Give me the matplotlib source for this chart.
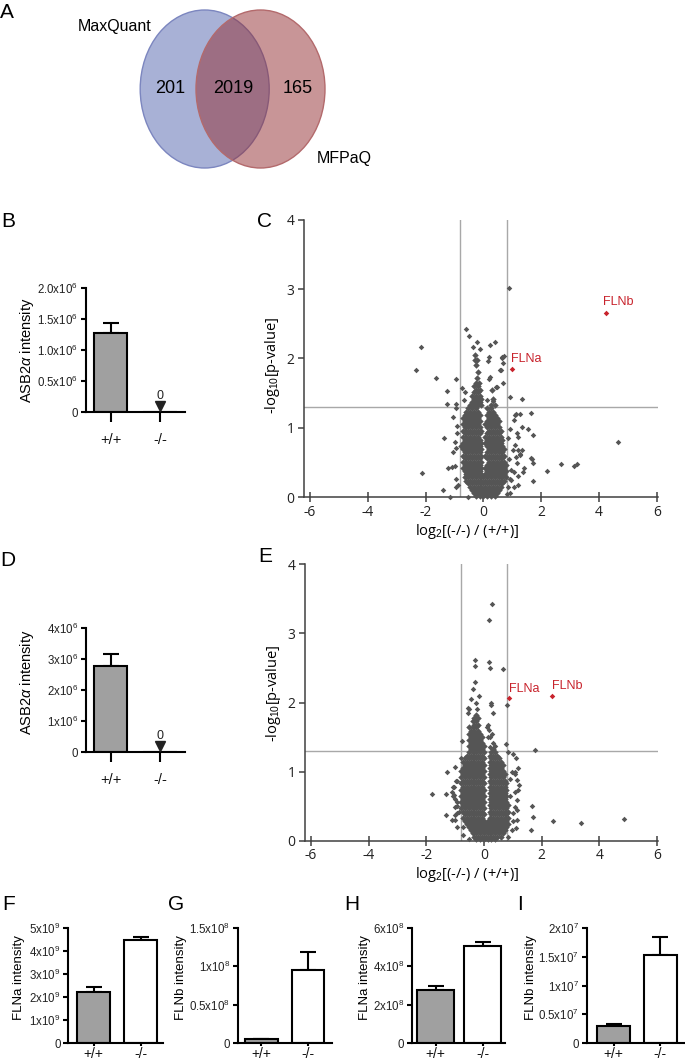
import numpy as np
import matplotlib
matplotlib.use('Agg')
import matplotlib.pyplot as plt
from matplotlib.patches import Ellipse
from matplotlib.transforms import offset_copy

W, H = 685, 1062

plt.rcParams['font.family'] = ['Liberation Sans', 'DejaVu Sans']
plt.rcParams['mathtext.fontset'] = 'custom'
plt.rcParams['mathtext.rm'] = 'Liberation Sans'
plt.rcParams['mathtext.it'] = 'Liberation Sans:italic'
plt.rcParams['mathtext.bf'] = 'Liberation Sans:bold'

# ---------------- data ----------------
venn_names = ['MaxQuant', 'MFPaQ']
venn_counts = [201, 2019, 165]

groups = ['+/+', '-/-']

b_mean = [1.28e6, 0]
b_err = [0.16e6, 0]
d_mean = [2.78e6, 0]
d_err = [0.38e6, 0]
f_mean = [2.24e9, 4.48e9]
f_err = [0.22e9, 0.13e9]
g_mean = [0.05e8, 0.95e8]
g_err = [0.004e8, 0.23e8]
h_mean = [2.77e8, 5.05e8]
h_err = [0.20e8, 0.19e8]
i_mean = [0.30e7, 1.53e7]
i_err = [0.03e7, 0.31e7]

# volcano C : dense core read row by row (y, x values)
c_core = [
    (0.02, [-0.26, -0.13, 0, 0.13, 0.26, 0.39]),
    (0.06, [-0.33, -0.20, -0.07, 0.07, 0.20, 0.33, 0.46]),
    (0.11, [-0.39, -0.26, -0.13, 0, 0.13, 0.26, 0.39, 0.52]),
    (0.15, [-0.46, -0.33, -0.20, -0.07, 0.07, 0.20, 0.33, 0.46, 0.59]),
    (0.20, [-0.52, -0.39, -0.26, -0.13, 0, 0.13, 0.26, 0.39, 0.52, 0.65]),
    (0.24, [-0.59, -0.46, -0.33, -0.20, -0.07, 0.07, 0.20, 0.33, 0.46, 0.59, 0.72]),
    (0.29, [-0.65, -0.52, -0.39, -0.26, -0.13, 0, 0.13, 0.26, 0.39, 0.52, 0.65, 0.78]),
    (0.33, [-0.59, -0.46, -0.33, -0.20, -0.07, 0.07, 0.20, 0.33, 0.46, 0.59, 0.72]),
    (0.38, [-0.65, -0.52, -0.39, -0.26, -0.13, 0.13, 0.26, 0.39, 0.52, 0.65, 0.78]),
    (0.42, [-0.72, -0.59, -0.46, -0.33, -0.20, -0.07, 0.07, 0.20, 0.33, 0.46, 0.59, 0.72]),
    (0.47, [-0.65, -0.52, -0.39, -0.26, -0.13, 0.13, 0.26, 0.39, 0.52, 0.65, 0.78]),
    (0.51, [-0.72, -0.59, -0.46, -0.33, -0.20, -0.07, 0.20, 0.33, 0.46, 0.59, 0.72]),
    (0.56, [-0.65, -0.52, -0.39, -0.26, -0.13, 0.13, 0.26, 0.39, 0.52, 0.65]),
    (0.60, [-0.72, -0.59, -0.46, -0.33, -0.20, -0.07, 0.07, 0.20, 0.33, 0.46, 0.59, 0.72]),
    (0.65, [-0.65, -0.52, -0.39, -0.26, -0.13, 0.13, 0.26, 0.39, 0.52, 0.65]),
    (0.69, [-0.72, -0.59, -0.46, -0.33, -0.20, -0.07, 0.20, 0.33, 0.46, 0.59, 0.72]),
    (0.74, [-0.78, -0.65, -0.52, -0.39, -0.26, -0.13, 0.13, 0.26, 0.39, 0.52, 0.65]),
    (0.78, [-0.72, -0.59, -0.46, -0.33, -0.20, -0.07, 0.07, 0.20, 0.33, 0.46, 0.59]),
    (0.83, [-0.65, -0.52, -0.39, -0.26, -0.13, 0.13, 0.26, 0.39, 0.52, 0.65]),
    (0.87, [-0.72, -0.59, -0.46, -0.33, -0.20, 0.07, 0.20, 0.33, 0.46, 0.59]),
    (0.92, [-0.65, -0.52, -0.39, -0.26, -0.13, 0.13, 0.26, 0.39, 0.52]),
    (0.96, [-0.72, -0.59, -0.46, -0.33, -0.20, -0.07, 0.20, 0.33, 0.46, 0.59]),
    (1.01, [-0.65, -0.52, -0.39, -0.26, -0.13, 0.13, 0.26, 0.39, 0.52]),
    (1.05, [-0.72, -0.59, -0.46, -0.33, -0.20, 0.07, 0.20, 0.33, 0.46]),
    (1.10, [-0.65, -0.52, -0.39, -0.26, -0.13, 0.13, 0.26, 0.39, 0.52]),
    (1.14, [-0.72, -0.59, -0.46, -0.33, -0.20, 0.20, 0.33, 0.46]),
    (1.19, [-0.65, -0.52, -0.39, -0.26, -0.13, 0.13, 0.26, 0.39]),
    (1.23, [-0.59, -0.46, -0.33, -0.20, 0.20, 0.33]),
    (1.28, [-0.52, -0.39, -0.26, 0.13, 0.26]),
    (1.33, [-0.46, -0.33, -0.20, -0.07, 0.26, 0.39]),
    (1.37, [-0.39, -0.26, -0.13]),
    (1.42, [-0.33, -0.20, -0.07, 0.33]),
    (1.46, [-0.39, -0.26, -0.13]),
    (1.51, [-0.33, -0.20]),
    (1.55, [-0.26, -0.13, 0.30]),
    (1.60, [-0.33, -0.20]),
    (1.65, [-0.26, -0.15]),
    (1.72, [-0.22]),
    (1.80, [-0.18]),
    (1.90, [-0.26]),
    (1.98, [-0.30, -0.22]),
    (2.05, [-0.28]),
]
c_outliers = [
    (0.87, 3.02), (-0.61, 2.43), (-0.51, 2.32), (-2.17, 2.17), (-2.33, 1.84),
    (-1.63, 1.72), (-1.27, 1.53), (-0.95, 1.70), (-1.25, 1.35), (-0.95, 1.35),
    (-0.21, 2.23), (-0.37, 2.17), (-0.12, 2.14), (0.23, 2.20), (0.39, 2.24),
    (0.16, 1.97), (0.65, 2.01), (0.71, 2.04), (0.58, 1.83), (0.67, 1.65),
    (0.44, 1.59), (0.18, 1.70), (0.23, 1.73), (0.92, 1.44), (1.32, 1.41),
    (1.66, 1.22), (1.11, 1.20), (1.32, 1.01), (1.55, 0.99), (1.71, 0.90),
    (4.67, 0.80), (2.69, 0.48), (2.19, 0.38), (3.13, 0.45), (3.24, 0.48),
    (1.73, 0.24), (1.67, 0.55), (1.72, 0.50), (1.33, 0.68), (1.25, 0.61),
    (1.41, 0.42), (-2.11, 0.35), (-1.35, 0.85), (-1.41, 0.10), (-1.17, 0.01),
    (-1.21, 0.42), (-1.10, 0.43), (-0.98, 0.45), (-0.95, 0.26), (-0.88, 0.17),
    (-0.55, 0.01), (-0.92, 0.92), (-0.90, 1.02), (-1.04, 1.16), (-0.95, 1.28),
    (-0.73, 1.57), (-0.69, 1.40), (-0.97, 0.80), (-0.95, 0.71), (-1.04, 0.65),
    (-0.94, 0.15), (-0.64, 1.52), (0.11, 1.40), (0.34, 1.38), (0.19, 2.02),
    (0.63, 2.02), (0.69, 1.93), (0.46, 1.59), (0.60, 1.84), (1.09, 1.19),
    (1.06, 1.11), (0.92, 0.99), (1.21, 0.87), (1.01, 0.68), (1.27, 0.63),
    (1.13, 0.58), (1.38, 0.37), (1.21, 0.30), (0.92, 0.27), (1.04, 0.15),
    (0.81, 0.05), (1.21, 0.18), (1.27, 1.20), (1.17, 0.92), (1.09, 0.75),
    (1.21, 0.68), (1.15, 0.49), (1.64, 0.56), (1.06, 0.37), (0.94, 0.25),
    (0.86, 0.15), (0.92, 0.06), (0.85, 0.85), (0.90, 0.55), (0.95, 0.40),
]
c_red_x = [0.98, 4.24]
c_red_y = [1.85, 2.65]

# volcano E
e_core = [
    (0.02, [-0.26, -0.13, 0, 0.13, 0.26, 0.39]),
    (0.06, [-0.33, -0.20, -0.07, 0.07, 0.20, 0.33, 0.46, 0.59]),
    (0.11, [-0.39, -0.26, -0.13, 0, 0.13, 0.26, 0.39, 0.52, 0.65]),
    (0.15, [-0.46, -0.33, -0.20, -0.07, 0.07, 0.20, 0.33, 0.46, 0.59, 0.72]),
    (0.20, [-0.52, -0.39, -0.26, -0.13, 0, 0.13, 0.26, 0.39, 0.52, 0.65, 0.78]),
    (0.24, [-0.59, -0.46, -0.33, -0.20, -0.07, 0.07, 0.20, 0.33, 0.46, 0.59, 0.72, 0.85]),
    (0.29, [-0.65, -0.52, -0.39, -0.26, -0.13, 0, 0.13, 0.26, 0.39, 0.52, 0.65, 0.78]),
    (0.33, [-0.72, -0.59, -0.46, -0.33, -0.20, -0.07, 0.20, 0.33, 0.46, 0.59, 0.72, 0.85]),
    (0.38, [-0.65, -0.52, -0.39, -0.26, -0.13, 0, 0.26, 0.39, 0.52, 0.65, 0.78]),
    (0.42, [-0.72, -0.59, -0.46, -0.33, -0.20, -0.07, 0.20, 0.33, 0.46, 0.59, 0.72, 0.85]),
    (0.47, [-0.78, -0.65, -0.52, -0.39, -0.26, -0.13, 0, 0.26, 0.39, 0.52, 0.65, 0.78]),
    (0.51, [-0.72, -0.59, -0.46, -0.33, -0.20, -0.07, 0.20, 0.33, 0.46, 0.59, 0.72, 0.85]),
    (0.56, [-0.78, -0.65, -0.52, -0.39, -0.26, -0.13, 0, 0.26, 0.39, 0.52, 0.65, 0.78]),
    (0.60, [-0.72, -0.59, -0.46, -0.33, -0.20, -0.07, 0.20, 0.33, 0.46, 0.59, 0.72]),
    (0.65, [-0.78, -0.65, -0.52, -0.39, -0.26, -0.13, 0, 0.26, 0.39, 0.52, 0.65, 0.78]),
    (0.69, [-0.72, -0.59, -0.46, -0.33, -0.20, -0.07, 0.20, 0.33, 0.46, 0.59, 0.72]),
    (0.74, [-0.78, -0.65, -0.52, -0.39, -0.26, -0.13, 0, 0.26, 0.39, 0.52, 0.65, 0.78]),
    (0.78, [-0.72, -0.59, -0.46, -0.33, -0.20, -0.07, 0.20, 0.33, 0.46, 0.59, 0.72]),
    (0.83, [-0.78, -0.65, -0.52, -0.39, -0.26, -0.13, 0, 0.26, 0.39, 0.52, 0.65, 0.78]),
    (0.87, [-0.72, -0.59, -0.46, -0.33, -0.20, -0.07, 0.20, 0.33, 0.46, 0.59, 0.72]),
    (0.92, [-0.78, -0.65, -0.52, -0.39, -0.26, -0.13, 0, 0.26, 0.39, 0.52, 0.65]),
    (0.96, [-0.72, -0.59, -0.46, -0.33, -0.20, -0.07, 0.20, 0.33, 0.46, 0.59, 0.72]),
    (1.01, [-0.78, -0.65, -0.52, -0.39, -0.26, -0.13, 0, 0.26, 0.39, 0.52, 0.65]),
    (1.05, [-0.72, -0.59, -0.46, -0.33, -0.20, -0.07, 0.20, 0.33, 0.46, 0.59]),
    (1.10, [-0.65, -0.52, -0.39, -0.26, -0.13, 0, 0.26, 0.39, 0.52, 0.65]),
    (1.14, [-0.72, -0.59, -0.46, -0.33, -0.20, -0.07, 0.20, 0.33, 0.46, 0.59]),
    (1.19, [-0.65, -0.52, -0.39, -0.26, -0.13, 0, 0.26, 0.39, 0.52]),
    (1.23, [-0.59, -0.46, -0.33, -0.20, -0.07, 0.20, 0.33, 0.46]),
    (1.28, [-0.52, -0.39, -0.26, -0.13, 0, 0.26, 0.39]),
    (1.32, [-0.46, -0.33, -0.20, -0.07, 0.33]),
    (1.37, [-0.52, -0.39, -0.26, -0.13, 0]),
    (1.41, [-0.46, -0.33, -0.20, -0.07]),
    (1.46, [-0.52, -0.39, -0.26, -0.13]),
    (1.50, [-0.46, -0.33, -0.20, -0.07]),
    (1.55, [-0.52, -0.39, -0.26, -0.13]),
    (1.59, [-0.46, -0.33, -0.20]),
    (1.64, [-0.52, -0.39, -0.26]),
    (1.68, [-0.33, -0.20]),
    (1.73, [-0.39, -0.26]),
    (1.77, [-0.33, -0.20]),
    (1.82, [-0.26]),
]
e_outliers = [
    (0.29, 3.42), (0.16, 3.20), (-0.30, 2.61), (-0.30, 2.53), (0.16, 2.58),
    (0.21, 2.50), (0.65, 2.48), (-0.31, 2.29), (-0.37, 2.19), (-0.18, 2.09),
    (-0.57, 1.92), (-0.51, 1.90), (-0.27, 1.99), (0.23, 2.00), (0.25, 1.96),
    (0.79, 1.97), (0.32, 1.85), (0.13, 1.67), (0.16, 1.60), (0.21, 1.50),
    (0.40, 1.37), (0.77, 1.40), (1.77, 1.31), (1.02, 1.25), (1.11, 1.19),
    (0.98, 1.00), (1.09, 1.00), (-1.29, 1.00), (-1.01, 1.06), (-1.80, 0.68),
    (-1.32, 0.68), (-1.32, 0.37), (-0.98, 0.86), (-1.04, 0.77), (1.66, 0.50),
    (1.69, 0.35), (1.64, 0.15), (2.38, 0.29), (3.35, 0.26), (4.84, 0.31),
    (1.19, 0.73), (1.13, 0.59), (1.16, 0.44), (1.02, 0.29), (1.11, 0.19),
    (-0.72, 0.20), (-0.51, 0.03), (-1.01, 0.30), (-1.12, 0.71), (-1.05, 0.66),
    (-0.99, 0.61), (-0.92, 0.56), (-1.00, 0.37), (-0.93, 0.40), (-0.86, 0.42),
    (-0.93, 0.87), (-0.95, 0.50), (-0.81, 1.19), (-1.06, 0.78), (-1.09, 0.64),
    (-1.00, 0.49), (-1.12, 0.30), (-0.95, 0.20), (-0.72, 0.08), (0.84, 1.29),
    (1.19, 1.05), (1.08, 0.97), (1.16, 0.88), (1.23, 0.81), (1.08, 0.71),
    (1.08, 0.49), (0.99, 0.40), (1.13, 0.30), (0.96, 0.15), (0.84, 0.06),
    (-0.77, 1.45), (0.20, 1.35), (0.33, 1.42), (0.15, 1.50), (0.28, 1.55),
    (0.09, 1.65), (-0.45, 2.05), (-0.25, 1.90), (-0.55, 1.85), (0.90, 0.90),
    (0.92, 0.65),
]
e_red_x = [0.88, 2.35]
e_red_y = [2.07, 2.09]
red_names = ['FLNa', 'FLNb']

# ---------------- figure ----------------
fig = plt.figure(figsize=(W / 100, H / 100), dpi=100)
RED = '#c8232c'
DOT = '#555555'


def px_axes(left, top, right, bottom):
    ax = fig.add_axes([left / W, 1 - bottom / H, (right - left) / W, (bottom - top) / H])
    ax.set_facecolor('none')
    return ax


def ptext(x, y, s, **kw):
    kw.setdefault('ha', 'center')
    kw.setdefault('va', 'center')
    fig.text(x / W, 1 - y / H, s, **kw)


# panel A : venn
ax0 = fig.add_axes([0, 0, 1, 1])
ax0.set_xlim(0, W)
ax0.set_ylim(H, 0)
ax0.axis('off')
ax0.add_patch(Ellipse((204.7, 89), 129, 158, fc='#a8b1d6', ec='#7c86bf', lw=1))
ax0.add_patch(Ellipse((260.5, 89), 129, 158, fc=(0.576, 0.176, 0.192, 0.5), ec='#b36a6c', lw=1))
narrow = ['Liberation Sans Narrow', 'Liberation Sans']
ax0.text(114.5, 27, venn_names[0], ha='center', va='center', fontsize=11.5, family=narrow)
ax0.text(344, 158, venn_names[1], ha='center', va='center', fontsize=11.5, family=narrow)
for cx, n in zip([170.5, 233, 297.5], venn_counts):
    ax0.text(cx, 88.5, str(n), ha='center', va='center', fontsize=13, family=narrow)

for lab, x, y in [('A', 7, 12), ('B', 8, 221), ('C', 265, 221), ('D', 8, 561),
                  ('E', 265, 557), ('F', 9, 904), ('G', 176, 905), ('H', 352, 904),
                  ('I', 520, 904)]:
    ptext(x, y, lab, fontsize=15)


def bar_panel(box, xlim, means, errs, width, ymax, yticks, yticklabels, ylabel,
              ylab_xy, lab_fs, zero_marks=False):
    ax = px_axes(*box)
    x = np.arange(len(groups))
    means = np.array(means)
    errs = np.array(errs)
    m = errs > 0
    ax.errorbar(x[m], means[m], yerr=[np.zeros(m.sum()), errs[m]], fmt='none',
                ecolor='black', elinewidth=1.5, capsize=5.5, capthick=1.5, zorder=1)
    ax.bar(x, means, width=width, color=['#a0a0a0', 'white'], edgecolor='black',
           linewidth=1.5, zorder=2)
    ax.set_xlim(*xlim)
    ax.set_ylim(0, ymax)
    for s in ['top', 'right']:
        ax.spines[s].set_visible(False)
    for s in ['left', 'bottom']:
        ax.spines[s].set_linewidth(1.5)
    ax.set_yticks(yticks, yticklabels, fontsize=8.3, color='#222222')
    ax.tick_params(axis='y', length=3.5, width=1.5, pad=2)
    if zero_marks:
        ax.set_xticks(x, groups, fontsize=10.5, color='#111111')
        ax.tick_params(axis='x', length=7, width=1.5, pad=8)
        for xi, v in zip(x, means):
            if v == 0:
                tr = offset_copy(ax.transData, fig=fig, x=0, y=6, units='dots')
                ax.plot(xi, 0, marker='v', ms=6.5, color='#222222', transform=tr,
                        clip_on=False, zorder=3)
                tr2 = offset_copy(ax.transData, fig=fig, x=0, y=16, units='dots')
                ax.text(xi, 0, '0', transform=tr2, ha='center', va='center',
                        fontsize=9, color='#222222')
    else:
        ax.set_xticks(x, groups, fontsize=10, color='#111111')
        ax.tick_params(axis='x', length=2.5, width=1.5, pad=0)
    ptext(ylab_xy[0], ylab_xy[1], ylabel, rotation=90, fontsize=lab_fs)
    return ax


bar_panel((85.7, 288.3, 185, 412.3), (-0.51, 1.51), b_mean, b_err, 0.68, 2.0e6,
          [0, 0.5e6, 1.0e6, 1.5e6, 2.0e6],
          ['0', '0.5x10$^{6}$', '1.0x10$^{6}$', '1.5x10$^{6}$', '2.0x10$^{6}$'],
          r'ASB2$\alpha$ intensity', (27, 350), 10.5, zero_marks=True)
bar_panel((85.7, 628.3, 185, 752.3), (-0.51, 1.51), d_mean, d_err, 0.68, 4e6,
          [0, 1e6, 2e6, 3e6, 4e6],
          ['0', '1x10$^{6}$', '2x10$^{6}$', '3x10$^{6}$', '4x10$^{6}$'],
          r'ASB2$\alpha$ intensity', (27, 682.5), 10.5, zero_marks=True)
bar_panel((68.3, 928.3, 163, 1043.3), (-0.543, 1.48), f_mean, f_err, 0.695, 5e9,
          [0, 1e9, 2e9, 3e9, 4e9, 5e9],
          ['0', '1x10$^{9}$', '2x10$^{9}$', '3x10$^{9}$', '4x10$^{9}$', '5x10$^{9}$'],
          'FLNa intensity', (19.3, 977.5), 9.5)
bar_panel((237.7, 927.7, 332, 1043.3), (-0.502, 1.51), g_mean, g_err, 0.695, 1.5e8,
          [0, 0.5e8, 1e8, 1.5e8],
          ['0', '0.5x10$^{8}$', '1x10$^{8}$', '1.5x10$^{8}$'],
          'FLNb intensity', (181, 977.5), 9.5)
bar_panel((411.7, 927.7, 505, 1043.3), (-0.513, 1.48), h_mean, h_err, 0.78, 6e8,
          [0, 2e8, 4e8, 6e8],
          ['0', '2x10$^{8}$', '4x10$^{8}$', '6x10$^{8}$'],
          'FLNa intensity', (365, 977.5), 9.5)
bar_panel((586.7, 927.7, 685, 1043.3), (-0.572, 1.526), i_mean, i_err, 0.69, 2e7,
          [0, 0.5e7, 1e7, 1.5e7, 2e7],
          ['0', '0.5x10$^{7}$', '1x10$^{7}$', '1.5x10$^{7}$', '2x10$^{7}$'],
          'FLNb intensity', (531, 977.5), 9.5)


def volcano(box, core, outliers, red_x, red_y, label_xy, ylab_xy, xlab_xy):
    ax = px_axes(*box)
    core_x = [x for y, row in core for x in row]
    core_y = [y for y, row in core for x in row]
    ax.axvline(-0.8, color='#a8a8a8', lw=1, zorder=1)
    ax.axvline(0.8, color='#a8a8a8', lw=1, zorder=1)
    ax.axhline(1.3, color='#a8a8a8', lw=1, zorder=1)
    ax.scatter(core_x, core_y, s=11, marker='D', c=DOT, linewidths=0, zorder=3,
               clip_on=False)
    ax.scatter([p[0] for p in outliers], [p[1] for p in outliers], s=8, marker='D',
               c=DOT, linewidths=0, zorder=3, clip_on=False)
    ax.scatter(red_x, red_y, s=8, marker='D', c=RED, linewidths=0, zorder=4)
    for (tx, ty), name in zip(label_xy, red_names):
        ax.text(tx, ty, name, color=RED, fontsize=9, ha='left', va='center')
    ax.set_xlim(-6.2, 6.05)
    ax.set_ylim(0, 4)
    for s in ['top', 'right']:
        ax.spines[s].set_visible(False)
    for s in ['left', 'bottom']:
        ax.spines[s].set_linewidth(1.1)
        ax.spines[s].set_color('#404040')
    xt = list(range(-6, 7, 2))
    ax.set_xticks(xt, [str(t) for t in xt], fontsize=10, family='Open Sans', color='#222222')
    ax.set_yticks(range(5), [str(t) for t in range(5)], fontsize=10, family='Open Sans',
                  color='#222222')
    ax.tick_params(axis='x', direction='inout', length=7, width=1.1, color='#404040', pad=2)
    ax.tick_params(axis='y', direction='out', length=4, width=1.1, color='#404040', pad=3)
    ptext(ylab_xy[0], ylab_xy[1], '-log$_{10}$[p-value]', rotation=90, fontsize=10.5,
          family='Open Sans')
    ptext(xlab_xy[0], xlab_xy[1], 'log$_{2}$[(-/-) / (+/+)]', fontsize=10.5,
          family='Open Sans')
    return ax


volcano((304.2, 219.6, 658.4, 497.3), c_core, c_outliers, c_red_x, c_red_y,
        [(0.955, 1.99), (4.13, 2.81)], (273, 365), (466.7, 531.7))
volcano((305.2, 564.3, 658.4, 840.7), e_core, e_outliers, e_red_x, e_red_y,
        [(0.857, 2.195), (2.36, 2.24)], (273.3, 693.3), (466.7, 875))

fig.savefig('out.png', dpi=100)
